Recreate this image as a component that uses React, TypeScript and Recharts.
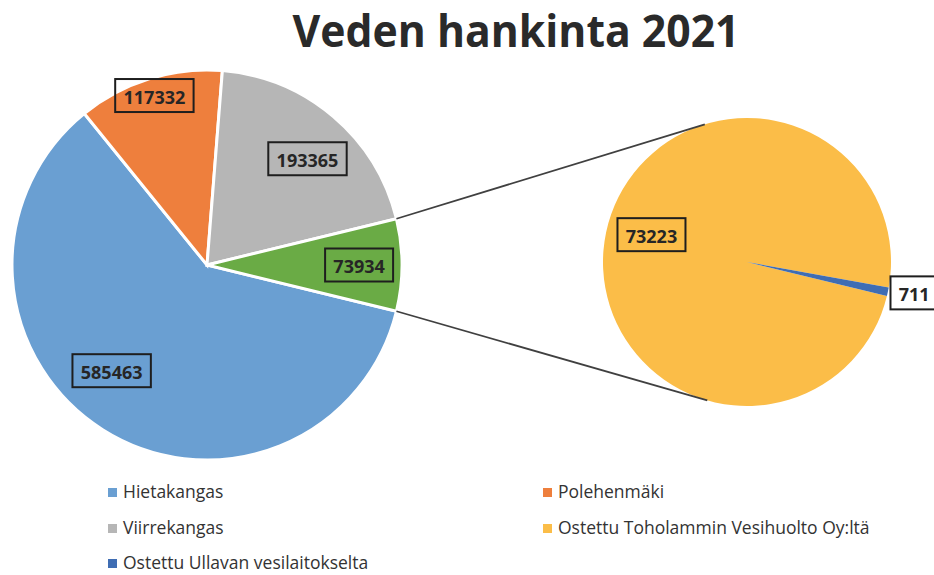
import { PieChart, Pie, Cell } from "recharts";

// Veden hankinta 2021 (m3)
const MAIN_NAMES = ["Hietakangas", "Polehenmäki", "Viirrekangas"];
const MAIN_VALUES = [585463, 117332, 193365];
const MAIN_COLORS = ["#6a9fd2", "#ee7f3d", "#b6b6b6"];

const SUB_NAMES = [
  "Ostettu Toholammin Vesihuolto Oy:ltä",
  "Ostettu Ullavan vesilaitokselta",
];
const SUB_VALUES = [73223, 711];
const SUB_COLORS = ["#fbbd48", "#3f6db3"];

const OTHER_NAME = "Muu";
const OTHER_COLOR = "#6aab45";

// legend order (two columns, row by row)
const LEGEND_NAMES = [
  "Hietakangas",
  "Polehenmäki",
  "Viirrekangas",
  "Ostettu Toholammin Vesihuolto Oy:ltä",
  "Ostettu Ullavan vesilaitokselta",
];

const otherValue = SUB_VALUES.reduce((a, b) => a + b, 0);
const mainData = [
  ...MAIN_NAMES.map((name, i) => ({ name, value: MAIN_VALUES[i], color: MAIN_COLORS[i] })),
  { name: OTHER_NAME, value: otherValue, color: OTHER_COLOR },
];
const subData = SUB_NAMES.map((name, i) => ({ name, value: SUB_VALUES[i], color: SUB_COLORS[i] }));
const colorOf = (name: string) =>
  [...mainData, ...subData].find((d) => d.name === name)?.color ?? "#999";

// layout
const W = 934;
const H = 575;
const MAIN_CX = 207;
const MAIN_CY = 265;
const MAIN_R = 195;
const SUB_CX = 747;
const SUB_CY = 262;
const SUB_R = 144;

const total = mainData.reduce((a, d) => a + d.value, 0);
const otherDeg = (otherValue / total) * 360;
// "other" slice centred on the right, drawn clockwise
const MAIN_END = -otherDeg / 2;
const MAIN_START = 360 + MAIN_END;
const ullavaDeg = (SUB_VALUES[1] / otherValue) * 360;
const SUB_START = -13.7 + ullavaDeg;
const SUB_END = SUB_START + 360;

// label placement: radius factor + angle nudge
const MAIN_LABEL_POS = [
  { r: 0.73, d: -9.7 },
  { r: 0.91, d: 0 },
  { r: 0.75, d: -3 },
  { r: 0.78, d: 0 },
];
const SUB_LABEL_POS = [
  { r: 0.69, d: -4 },
  { r: 1.18, d: 1.5 },
];

const RAD = Math.PI / 180;
const polar = (cx: number, cy: number, r: number, a: number) => ({
  x: cx + r * Math.cos(-a * RAD),
  y: cy + r * Math.sin(-a * RAD),
});

// tangent point from p onto the small pie
const tangent = (p: { x: number; y: number }, upper: boolean) => {
  const dx = p.x - SUB_CX;
  const dy = p.y - SUB_CY;
  const d = Math.sqrt(dx * dx + dy * dy);
  const th = Math.atan2(dy, dx);
  const al = Math.acos(SUB_R / d);
  const a = { x: SUB_CX + SUB_R * Math.cos(th + al), y: SUB_CY + SUB_R * Math.sin(th + al) };
  const b = { x: SUB_CX + SUB_R * Math.cos(th - al), y: SUB_CY + SUB_R * Math.sin(th - al) };
  if (upper) return a.y < b.y ? a : b;
  return a.y > b.y ? a : b;
};

const LabelBox = ({ x, y, text }: { x: number; y: number; text: string }) => {
  const w = text.length * 10.4 + 16;
  const h = 33;
  return (
    <g>
      <rect x={x - w / 2} y={y - h / 2} width={w} height={h} fill="none" stroke="#1e1e1e" strokeWidth={2} />
      <text
        x={x}
        y={y + 1}
        textAnchor="middle"
        dominantBaseline="central"
        fontFamily="'Open Sans', sans-serif"
        fontWeight={700}
        fontSize={18}
        fill="#262626"
      >
        {text}
      </text>
    </g>
  );
};

const renderMainLabel = (props: any) => {
  const { cx, cy, midAngle, outerRadius, index, value, startAngle, endAngle } = props;
  const pos = MAIN_LABEL_POS[index];
  const p = polar(cx, cy, outerRadius * pos.r, midAngle + pos.d);
  if (index !== mainData.length - 1) return <LabelBox x={p.x} y={p.y} text={String(value)} />;
  const a = polar(cx, cy, outerRadius, Math.max(startAngle, endAngle));
  const b = polar(cx, cy, outerRadius, Math.min(startAngle, endAngle));
  const ta = tangent(a, true);
  const tb = tangent(b, false);
  return (
    <g>
      <line x1={a.x} y1={a.y} x2={ta.x} y2={ta.y} stroke="#404040" strokeWidth={1.8} />
      <line x1={b.x} y1={b.y} x2={tb.x} y2={tb.y} stroke="#404040" strokeWidth={1.8} />
      <LabelBox x={p.x} y={p.y} text={String(value)} />
    </g>
  );
};

const renderSubLabel = (props: any) => {
  const { cx, cy, midAngle, outerRadius, index, value } = props;
  const pos = SUB_LABEL_POS[index];
  const p = polar(cx, cy, outerRadius * pos.r, midAngle + pos.d);
  return <LabelBox x={p.x} y={p.y} text={String(value)} />;
};

const LEGEND_COL_X = [108, 543];
const LEGEND_ROW_Y = [498, 534, 569];

const App = () => {
  return (
    <div style={{ position: "absolute", left: 0, top: 0, width: W, height: H, background: "#fff" }}>
      <PieChart width={W} height={H} margin={{ top: 0, right: 0, bottom: 0, left: 0 }}>
        <Pie
          data={mainData}
          dataKey="value"
          nameKey="name"
          cx={MAIN_CX}
          cy={MAIN_CY}
          outerRadius={MAIN_R}
          startAngle={MAIN_START}
          endAngle={MAIN_END}
          stroke="#ffffff"
          strokeWidth={3}
          label={renderMainLabel}
          labelLine={false}
          isAnimationActive={false}
        >
          {mainData.map((d, i) => (
            <Cell key={`m-${i}`} fill={d.color} />
          ))}
        </Pie>
        <Pie
          data={subData}
          dataKey="value"
          nameKey="name"
          cx={SUB_CX}
          cy={SUB_CY}
          outerRadius={SUB_R}
          startAngle={SUB_START}
          endAngle={SUB_END}
          stroke="none"
          label={renderSubLabel}
          labelLine={false}
          isAnimationActive={false}
        >
          {subData.map((d, i) => (
            <Cell key={`s-${i}`} fill={d.color} />
          ))}
        </Pie>
      </PieChart>

      <svg
        width={W}
        height={H}
        style={{ position: "absolute", left: 0, top: 0, pointerEvents: "none" }}
      >
        <text
          x={516}
          y={47}
          textAnchor="middle"
          fontFamily="'Open Sans', sans-serif"
          fontWeight={700}
          fontSize={44}
          fill="#2a2a2a"
          textLength={447}
          lengthAdjust="spacingAndGlyphs"
        >
          Veden hankinta 2021
        </text>
        {LEGEND_NAMES.map((name, i) => {
          const x = LEGEND_COL_X[i % 2];
          const y = LEGEND_ROW_Y[Math.floor(i / 2)];
          return (
            <g key={name}>
              <rect x={x} y={y - 10} width={9} height={9} fill={colorOf(name)} />
              <text
                x={x + 15}
                y={y}
                fontFamily="'Open Sans', sans-serif"
                fontSize={17.5}
                fill="#333333"
              >
                {name}
              </text>
            </g>
          );
        })}
      </svg>
    </div>
  );
};

export default App;
